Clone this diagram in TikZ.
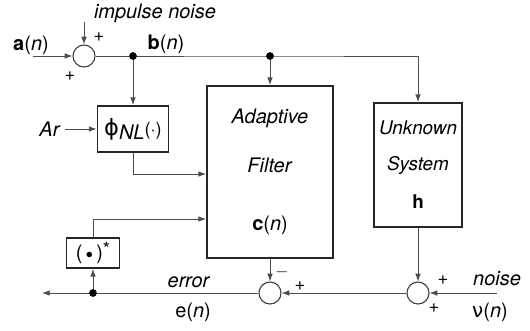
\documentclass[tikz,border=0pt]{standalone}
\usepackage{fontspec}
\setmainfont{TeX Gyre Heros}
\newfontfamily\grk{DejaVu Sans}
\usepackage{tikz}
\usetikzlibrary{arrows.meta, positioning, calc}

\begin{document}
\begin{tikzpicture}[x=0.025cm, y=-0.025cm,
            font=\fontsize{14.2}{17}\selectfont,
            blk/.style={draw=black!85, line width=1.3pt, rectangle, inner sep=0pt, align=center},
            summer/.style={draw=black!75, line width=0.8pt, circle, minimum size=0.55cm, inner sep=0pt},
            arrow/.style={-{Latex[length=5.5pt, width=4pt]}, line width=0.6pt, draw=black!70},
            dot/.style={circle, fill=black, inner sep=0pt, minimum size=5.5pt},
            sgn/.style={inner sep=0pt, font=\fontsize{13}{15}\selectfont}
        ]
        \useasboundingbox (0,0) rectangle (530,330);

        % --- Blocks ---
        \node[summer] (sum1) at (84,56) {};
        \node[summer] (sum2) at (270,293) {};
        \node[summer] (sum3) at (418,293) {};
        \node[blk, minimum width=1.775cm, minimum height=1.15cm] (phi) at (133,129) {{\grk\fontsize{16}{18}\selectfont ϕ}\raisebox{-0.4ex}{\itshape NL}{\fontsize{13}{15}\selectfont(·)}};
        \node[blk, minimum width=3.15cm, minimum height=4.3cm] (filt) at (270,172) {\textit{Adaptive}\\[18pt]\textit{Filter}\\[24pt]\textbf{c}(\textit{n})};
        \node[blk, minimum width=2.2cm, minimum height=3.1cm, font=\fontsize{13.4}{16}\selectfont] (sys) at (418,165) {\textit{Unknown}\\[9.5pt]\textit{System}\\[11pt]\textbf{h}};
        \node[blk, minimum width=1.325cm, minimum height=0.75cm] (conj) at (93,253) {(\,\raisebox{0.1ex}{\fontsize{10}{10}\selectfont$\bullet$}\,)\raisebox{0.35ex}{\fontsize{13}{13}\selectfont*}};

        % --- Labels ---
        \node (a_lbl) at (31,45) {\textbf{a}(\textit{n})};
        \node (imp_lbl) at (155,13) {\textit{impulse noise}};
        \node (b_lbl) at (166,44) {\textbf{b}(\textit{n})};
        \node (ar) at (50,129) {\textit{Ar}};
        \node (err_lbl) at (189,282) {\textit{error}};
        \node (e_lbl) at (193,312) {e(\textit{n})};
        \node (noise_lbl) at (497,279) {\textit{noise}};
        \node (nu_lbl) at (490,312) {{\grk ν}(\textit{n})};

        % signs at the summers
        \node[sgn] (s1a) at (99,37) {+};
        \node[sgn] (s1b) at (70,76) {+};
        \node[sgn] (s2a) at (282,272) {$-$};
        \node[sgn] (s2b) at (300,286) {+};
        \node[sgn] (s3a) at (443,280) {+};
        \node[sgn] (s3b) at (434,308) {+};

        % --- Junctions and free ends ---
        \coordinate (ain) at (33,56);
        \coordinate (imp) at (84,22);
        \coordinate (j1) at (133,56);
        \coordinate (j2) at (270,56);
        \coordinate (j3) at (93,293);
        \coordinate (eout) at (42,293);
        \coordinate (nin) at (497,293);

        % --- Connections ---
        \draw[arrow] (ain) -- (sum1);
        \draw[arrow] (imp) -- (sum1);
        \draw[arrow] (sum1.east) -- (j2) -| (sys.north);
        \draw[arrow] (j1) -- (phi.north);
        \draw[arrow] (j2) -- (filt.north);
        \draw[arrow] (ar) -- (phi.west);
        \draw[arrow] (phi.south) |- ($(filt.west)+(0,2)$);
        \draw[arrow] (conj.north) |- ($(filt.west)+(0,47)$);
        \draw[arrow] (filt.south) -- (sum2.north);
        \draw[arrow] (sys.south) -- (sum3.north);
        \draw[arrow] (nin) -- (sum3.east);
        \draw[arrow] (sum3.west) -- (sum2.east);
        \draw[arrow] (sum2.west) -- (eout);
        \draw[arrow] (j3) -- (conj.south);

        % dots
        \node[dot] (dot1) at (j1) {};
        \node[dot] (dot2) at (j2) {};
        \node[dot] (dot3) at (j3) {};

    \end{tikzpicture}
\end{document}
